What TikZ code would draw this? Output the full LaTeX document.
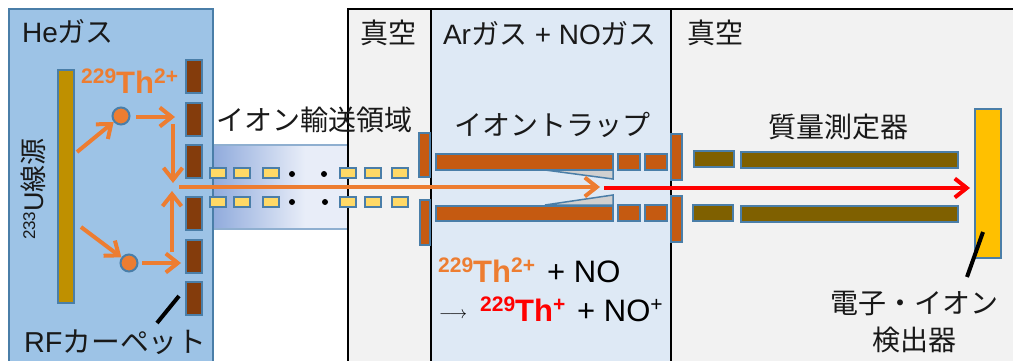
\documentclass[tikz,border=0pt]{standalone}
\usepackage{fontspec}
\setmainfont{Liberation Sans}
\newfontfamily\cjk{Noto Sans CJK JP}
\newfontfamily\lat{Liberation Sans}
\usetikzlibrary{arrows.meta}
\definecolor{hebg}{HTML}{9DC3E6}
\definecolor{edgeb}{HTML}{4A7EA8}
\definecolor{argas}{HTML}{DEE9F5}
\definecolor{vac}{HTML}{F2F2F2}
\definecolor{carpet}{HTML}{843C0C}
\definecolor{source}{HTML}{BF9000}
\definecolor{trap}{HTML}{C55A11}
\definecolor{mass}{HTML}{7F6000}
\definecolor{det}{HTML}{FFC000}
\definecolor{ionor}{HTML}{ED7D31}
\definecolor{yel}{HTML}{FFD966}
\definecolor{cone}{HTML}{D0D0D0}
\definecolor{gradL}{HTML}{8FAADC}
\definecolor{gradR}{HTML}{E8EDF8}
\definecolor{gradE}{HTML}{8FAFD0}
\newcommand{\supr}[1]{\raisebox{.3em}{\fontsize{21}{21}\selectfont #1}}
\tikzset{
 x=1pt,y=-1pt,
 part/.style={draw=edgeb,line width=2pt},
 lbl/.style={inner sep=0pt,font=\fontsize{28}{30}\selectfont\cjk,text=black!90},
 oarrow/.style={draw=ionor,line width=4pt,-{Straight Barb[length=12pt,width=19pt,line width=4pt]}},
 rarrow/.style={draw=red,line width=4pt,-{Straight Barb[length=12pt,width=19pt,line width=4pt]}},
 ion/.style={circle,fill=ionor,draw=edgeb,line width=2pt,minimum size=17pt,inner sep=0pt},
 pt/.style={circle,fill=black,inner sep=0pt,minimum size=6pt},
 thb/.style={inner sep=0pt,anchor=base west,font=\fontsize{31}{33}\selectfont\bfseries},
 plain/.style={inner sep=0pt,anchor=base west,font=\fontsize{31}{33}\selectfont,text=black},
 leader/.style={draw=black,line width=4pt}
}
\begin{document}
\begin{tikzpicture}
\useasboundingbox (0,0) rectangle (1013,361);
\fill[white] (0,0) rectangle (1013,361);
% chambers
\fill[vac] (348,9) rectangle (1013,361);
\fill[argas] (431,9) rectangle (671,361);
\draw[black,line width=1.8pt] (348,361) -- (348,9) -- (1013,9);
\draw[black,line width=1.8pt] (431,9) -- (431,361);
\draw[black,line width=1.8pt] (671,9) -- (671,361);
% transport region
\fill[left color=gradL,right color=gradR] (212,145) rectangle (305,229);
\fill[gradR] (305,145) rectangle (347,229);
\draw[gradE,line width=2pt] (347,145) -- (212,145) (212,229) -- (347,229);
% He region
\fill[hebg] (9,9) rectangle (213,361);
\draw[edgeb,line width=2pt] (9,361) -- (9,9) -- (213,9) -- (213,361);
% source
\filldraw[fill=source,part] (58,70) rectangle (74,303);
% carpet
\foreach \y in {60,103,145,197,240,282}{
  \filldraw[fill=carpet,part] (186,\y) rectangle (202,\y+33);
}
% ions
\node[ion] (ionA) at (121,116) {};
\node[ion] (ionB) at (129,263) {};
\coordinate (srcA) at (77,152);
\coordinate (srcB) at (81,227);
\coordinate (startA) at (136,117);
\coordinate (startB) at (142,263);
\coordinate (carA) at (175,117);
\coordinate (carB) at (181,263);
\coordinate (cenU) at (173,124);
\coordinate (cenUe) at (173,183);
\coordinate (cenD) at (172,252);
\coordinate (cenDe) at (172,191);
\draw[oarrow] (srcA) -- (ionA);
\draw[oarrow] (srcB) -- (ionB);
\draw[oarrow] (startA) -- (carA);
\draw[oarrow] (startB) -- (carB);
\draw[oarrow] (cenU) -- (cenUe);
\draw[oarrow] (cenD) -- (cenDe);
% transport electrodes
\foreach \x in {210,234,263,340,365,392}{
  \filldraw[fill=yel,part] (\x,168) rectangle (\x+16,178);
  \filldraw[fill=yel,part] (\x,197) rectangle (\x+16,207);
}
\node[pt] (d1) at (292,174) {};
\node[pt] (d2) at (324,174) {};
\node[pt] (d3) at (292,202) {};
\node[pt] (d4) at (325,202) {};
% trap
\filldraw[fill=trap,part] (419,133) rectangle (430,177);
\filldraw[fill=trap,part] (420,200) rectangle (430,245);
\filldraw[fill=cone,draw=edgeb,line width=1.5pt] (545,170) -- (613,170) -- (613,179) -- cycle;
\filldraw[fill=cone,draw=edgeb,line width=1.5pt] (545,205) -- (613,205) -- (613,195) -- cycle;
\filldraw[fill=trap,part] (436,154) rectangle (613,170);
\filldraw[fill=trap,part] (436,205.5) rectangle (613,221);
\filldraw[fill=trap,part] (618,154) rectangle (640,169.5);
\filldraw[fill=trap,part] (645,154) rectangle (667,169.5);
\filldraw[fill=trap,part] (618,205) rectangle (640,220.5);
\filldraw[fill=trap,part] (645,205) rectangle (667,220.5);
\filldraw[fill=trap,part] (671,134) rectangle (682,180);
\filldraw[fill=trap,part] (671,196) rectangle (682,242);
% mass filter
\filldraw[fill=mass,part] (693.5,151) rectangle (733.5,167);
\filldraw[fill=mass,part] (741,151.5) rectangle (958,168);
\filldraw[fill=mass,part] (692.5,205) rectangle (733,220.5);
\filldraw[fill=mass,part] (741,206) rectangle (958,221.5);
% detector
\filldraw[fill=det,part] (975,109) rectangle (1000.5,258);
% beam
\coordinate (beamS) at (179,187);
\coordinate (beamE) at (600,187);
\coordinate (redS) at (604,188);
\coordinate (redE) at (970,188);
\draw[oarrow] (beamS) -- (beamE);
\draw[rarrow] (redS) -- (redE);
% leaders
\coordinate (l1a) at (179,296);
\coordinate (l1b) at (157,323);
\coordinate (l2a) at (983,232);
\coordinate (l2b) at (967,277);
\draw[leader] (l1a) -- (l1b);
\draw[leader] (l2a) -- (l2b);
% labels
\node[lbl,anchor=base west] (he) at (22,43) {{\lat He}ガス};
\node[lbl,anchor=center,rotate=90,font=\fontsize{27}{29}\selectfont\cjk] (src) at (33,189) {\raisebox{.3em}{\lat\fontsize{17}{17}\selectfont 233}{\lat U}線源};
\node[lbl,anchor=base west,font=\fontsize{28.8}{30}\selectfont\cjk] (rf) at (24,352) {{\lat RF}カーペット};
\node[lbl] (tr) at (314.5,120) {イオン輸送領域};
\node[lbl] (v1) at (388,33) {真空};
\node[lbl] (ar) at (550,33) {{\lat Ar}ガス{\lat\ + NO}ガス};
\node[lbl] (v2) at (715,33) {真空};
\node[lbl] (it) at (552,125) {イオントラップ};
\node[lbl] (ms) at (838,127) {質量測定器};
\node[lbl] (d5) at (914,304) {電子・イオン};
\node[lbl] (d6) at (914,340) {検出器};
\node[thb,text=ionor] (th1) at (81,93) {\supr{229}Th\supr{2+}};
\node[thb,text=ionor] (th2) at (438,282) {\supr{229}Th\supr{2+}};
\node[plain] (no1) at (547,282) {+ NO};
\node[plain,font=\fontsize{18}{20}\selectfont] (ar1) at (439,318) {$\longrightarrow$};
\node[thb,text=red] (th3) at (480,321) {\supr{229}Th\supr{+}};
\node[plain] (no2) at (577,321) {+ NO\supr{+}};
\end{tikzpicture}
\end{document}
